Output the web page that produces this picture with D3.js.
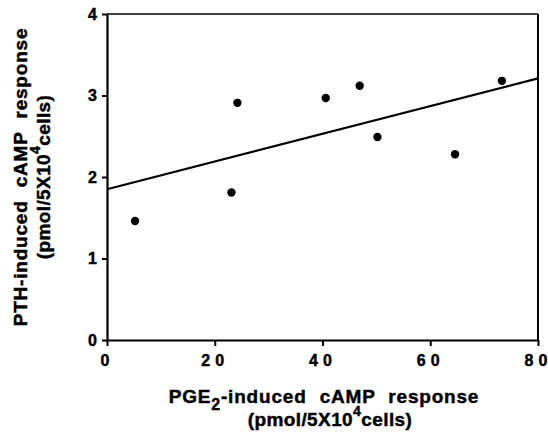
<!DOCTYPE html>
<html>
<head>
<meta charset="utf-8">
<script src="https://cdn.jsdelivr.net/npm/d3@7"></script>
<style>
  html, body { margin: 0; padding: 0; background: #fff; }
  svg { display: block; }
  text { font-family: "Liberation Sans", Arial, Helvetica, sans-serif; font-weight: bold; fill: #000; stroke: #000; stroke-width: 0.45px; }
</style>
</head>
<body>
<svg id="chart" width="548" height="433"></svg>
<script>
// ---- data ----
const pgeValues = [5.2, 23.1, 24.2, 40.6, 46.9, 50.2, 64.6, 73.3];
const pthValues = [1.46, 1.81, 2.91, 2.97, 3.12, 2.49, 2.28, 3.18];
const fitX = [0, 80];
const fitY = [1.85, 3.21];
const xTicks = [0, 20, 40, 60, 80];
const yTicks = [0, 1, 2, 3, 4];
const xTitle1 = ["PGE", "2", "-induced cAMP response"];
const xTitle2 = ["(pmol/5X10", "4", "cells)"];
const yTitle1 = "PTH-induced cAMP response";
const yTitle2 = ["(pmol/5X10", "4", "cells)"];

// ---- layout ----
const W = 548, H = 433;
const m = { left: 107, right: 10, top: 14, bottom: 93 };
const svg = d3.select("#chart");
const x = d3.scaleLinear().domain([0, 80]).range([m.left, W - m.right]);
const y = d3.scaleLinear().domain([0, 4]).range([H - m.bottom, m.top]);

// box (top and right)
svg.append("line").attr("x1", x(0)).attr("x2", x(80)).attr("y1", y(4)).attr("y2", y(4))
  .attr("stroke", "#000").attr("stroke-width", 1.6);
svg.append("line").attr("x1", x(80)).attr("x2", x(80)).attr("y1", y(4)).attr("y2", y(0))
  .attr("stroke", "#000").attr("stroke-width", 2);

// x axis
const gx = svg.append("g").attr("transform", `translate(0,${y(0)})`)
  .call(d3.axisBottom(x).tickValues(xTicks).tickFormat(d3.format("d")).tickSize(6).tickPadding(9).tickSizeOuter(0));
gx.select(".domain").attr("stroke-width", 2.2);
gx.selectAll(".tick line").attr("stroke-width", 2);
gx.selectAll(".tick text")
  .attr("font-size", 16).attr("font-weight", "bold")
  .attr("font-family", "'Liberation Sans', Arial, sans-serif")
  .attr("stroke", "#000").attr("stroke-width", 0.5)
  .style("letter-spacing", "5px").attr("dx", "0px");

// y axis
const gy = svg.append("g").attr("transform", `translate(${x(0)},0)`)
  .call(d3.axisLeft(y).tickValues(yTicks).tickFormat(d3.format("d")).tickSize(5).tickPadding(5).tickSizeOuter(0));
gy.select(".domain").attr("stroke-width", 2.2);
gy.selectAll(".tick line").attr("stroke-width", 2);
gy.selectAll(".tick text")
  .attr("font-size", 16).attr("font-weight", "bold")
  .attr("font-family", "'Liberation Sans', Arial, sans-serif")
  .attr("stroke", "#000").attr("stroke-width", 0.5);

// regression line
svg.append("path")
  .datum(fitX.map((d, i) => [d, fitY[i]]))
  .attr("d", d3.line().x(d => x(d[0])).y(d => y(d[1])))
  .attr("fill", "none").attr("stroke", "#000").attr("stroke-width", 2.2);

// points
svg.append("g").selectAll("circle")
  .data(pgeValues.map((d, i) => [d, pthValues[i]]))
  .join("circle")
  .attr("cx", d => x(d[0])).attr("cy", d => y(d[1])).attr("r", 4.2).attr("fill", "#000");

// x title
const xt1 = svg.append("text").attr("x", 324).attr("y", 403).attr("text-anchor", "middle")
  .style("font-size", "19px").style("word-spacing", "7px").style("letter-spacing", "0.8px");
xt1.append("tspan").text(xTitle1[0]);
xt1.append("tspan").attr("dy", 7).style("font-size", "16px").text(xTitle1[1]);
xt1.append("tspan").attr("dy", -7).text(xTitle1[2]);

const xt2 = svg.append("text").attr("x", 330).attr("y", 426).attr("text-anchor", "middle")
  .style("font-size", "19px").style("letter-spacing", "0.4px");
xt2.append("tspan").text(xTitle2[0]);
xt2.append("tspan").attr("dy", -10).style("font-size", "14px").text(xTitle2[1]);
xt2.append("tspan").attr("dy", 10).text(xTitle2[2]);

// y title
const cy = (y(0) + y(4)) / 2;
svg.append("text").attr("transform", `translate(27,${cy}) rotate(-90)`).attr("text-anchor", "middle")
  .style("font-size", "19px").style("word-spacing", "7px").style("letter-spacing", "0.8px")
  .text(yTitle1);
const yt2 = svg.append("text").attr("transform", `translate(50,${cy}) rotate(-90)`).attr("text-anchor", "middle")
  .style("font-size", "19px").style("letter-spacing", "0.4px");
yt2.append("tspan").text(yTitle2[0]);
yt2.append("tspan").attr("dy", -10).style("font-size", "14px").text(yTitle2[1]);
yt2.append("tspan").attr("dy", 10).text(yTitle2[2]);
</script>
</body>
</html>
